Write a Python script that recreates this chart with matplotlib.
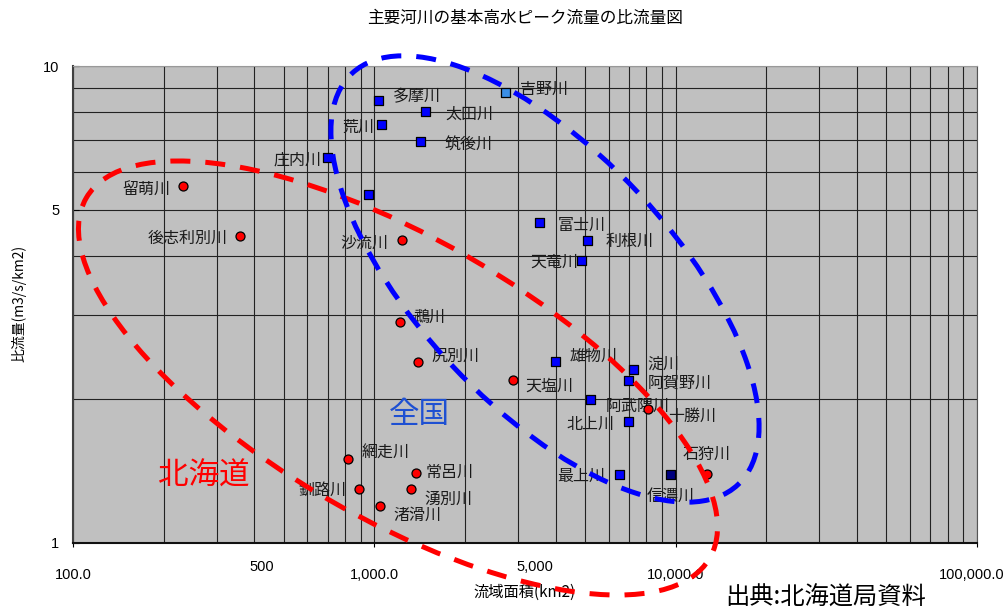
import matplotlib
matplotlib.use("Agg")
from matplotlib import pyplot as plt
from matplotlib.patches import Ellipse
from matplotlib.ticker import FixedLocator, NullFormatter
from matplotlib.transforms import ScaledTranslation

plt.rcParams['font.family'] = ['Noto Sans CJK JP', 'DejaVu Sans']

# 全国 (blue squares): 流域面積 km2, 比流量 m3/s/km2
zenkoku_names = ['多摩川', '太田川', '荒川', '筑後川', '庄内川', '', '吉野川', '富士川',
                 '利根川', '天竜川', '雄物川', '淀川', '阿賀野川', '阿武隈川', '北上川',
                 '最上川', '信濃川']
zenkoku_area = [1034, 1484, 1058, 1426, 698, 957, 2730, 3529,
                5082, 4853, 4006, 7222, 6984, 5225, 6984, 6486, 9632]
zenkoku_q = [8.45, 8.02, 7.55, 6.93, 6.43, 5.39, 8.81, 4.70,
             4.31, 3.91, 2.40, 2.31, 2.19, 2.00, 1.80, 1.395, 1.395]

# 北海道 (red circles)
hokkaido_names = ['留萌川', '後志利別川', '沙流川', '鵡川', '尻別川', '天塩川', '網走川',
                  '常呂川', '釧路川', '湧別川', '渚滑川', '十勝川', '石狩川']
hokkaido_area = [232, 358, 1239, 1214, 1393, 2878, 818, 1378, 890, 1321, 1042, 8110, 12680]
hokkaido_q = [5.60, 4.40, 4.31, 2.90, 2.40, 2.20, 1.50, 1.40, 1.30, 1.30, 1.196, 1.91, 1.395]

x_ticks = [100, 1000, 10000, 100000]
x_ticklabels = ['100.0', '1,000.0', '10,000.0', '100,000.0']
y_ticks = [1, 5, 10]

# label placement (offset in points, alignment)
zenkoku_lab = [(10, 3, 'left'), (14, -2, 'left'), (-5, -2, 'right'), (17, -2, 'left'),
               (-4, -2, 'right'), (0, 0, 'left'), (10, 2, 'left'), (13, -2, 'left'),
               (13, -1, 'left'), (-2, -1, 'right'), (10, 4, 'left'), (10, 4, 'left'),
               (14, -2, 'left'), (11, -5, 'left'), (-10, -2, 'right'), (-10, -2, 'right'),
               (0, -16, 'center')]
hokkaido_lab = [(-9, -2, 'right'), (-9, -2, 'right'), (-10, -2, 'right'), (10, 4, 'left'),
                (10, 4, 'left'), (9, -5, 'left'), (10, 4, 'left'), (7, 1, 'left'),
                (-9, -1, 'right'), (10, -8, 'left'), (10, -7, 'left'), (14, -5, 'left'),
                (0, 14, 'center')]

sq_colors = ['#0000FF'] * len(zenkoku_area)
sq_colors[6] = '#3A8EE6'
sq_colors[16] = '#000080'

fig = plt.figure(figsize=(10.07, 6.10), dpi=100)
ax = fig.add_axes([73 / 1007, 67 / 610, 904 / 1007, 477 / 610])
ax.set_xscale('log')
ax.set_yscale('log')
ax.set_xlim(100, 100000)
ax.set_ylim(1, 10)
ax.set_facecolor('#C0C0C0')

narrow = ['Liberation Sans Narrow', 'Liberation Sans', 'DejaVu Sans']
ax.xaxis.set_major_locator(FixedLocator(x_ticks))
ax.set_xticklabels(x_ticklabels)
ax.xaxis.set_minor_formatter(NullFormatter())
ax.yaxis.set_major_locator(FixedLocator(y_ticks))
ax.yaxis.set_minor_locator(FixedLocator([2, 3, 4, 6, 7, 8, 9]))
ax.set_yticklabels([str(v) for v in y_ticks])
ax.yaxis.set_minor_formatter(NullFormatter())
ax.grid(which='both', color='#222222', lw=0.8)
ax.set_axisbelow(True)
ax.tick_params(which='minor', length=0)
ax.tick_params(axis='x', which='major', length=3, direction='out', pad=15)
ax.tick_params(axis='y', which='major', length=4, direction='in', pad=10, labelsize=10.5)
for lab in ax.get_xticklabels():
    lab.set_family(narrow)
    lab.set_fontsize(10.5)
last = ax.get_xticklabels()[-1]
last.set_transform(last.get_transform() + ScaledTranslation(-0.05, 0, fig.dpi_scale_trans))
for lab in ax.get_yticklabels():
    lab.set_family(['Liberation Sans', 'DejaVu Sans'])
for extra, dx in [(500, -16), (5000, -36)]:
    ax.annotate(f'{extra:,}', xy=(extra, 1), xycoords='data', xytext=(dx, -17),
                textcoords='offset points', ha='center', va='center', fontsize=10.5,
                family=narrow, annotation_clip=False)

ax.spines['left'].set_color('#404040')
ax.spines['left'].set_linewidth(1.5)
ax.spines['bottom'].set_color('#111111')
ax.spines['bottom'].set_linewidth(1.5)
ax.spines['top'].set_color('#999999')
ax.spines['right'].set_color('#555555')

ax.scatter(zenkoku_area, zenkoku_q, marker='s', s=42, c=sq_colors, edgecolors='black',
           linewidths=0.9, zorder=4)
ax.scatter(hokkaido_area, hokkaido_q, marker='o', s=42, c='#FF0000', edgecolors='black',
           linewidths=0.9, zorder=4)

for names, xs, ys, labs in [(zenkoku_names, zenkoku_area, zenkoku_q, zenkoku_lab),
                            (hokkaido_names, hokkaido_area, hokkaido_q, hokkaido_lab)]:
    for n, x, y, (dx, dy, ha) in zip(names, xs, ys, labs):
        if n:
            ax.annotate(n, xy=(x, y), xytext=(dx, dy), textcoords='offset points',
                        ha=ha, va='center', fontsize=11.5, color='#1a1a1a', zorder=3)

ax.text(0.383, 0.27, '全国', transform=ax.transAxes, fontsize=22, color='#1E50D2',
        ha='center', va='center', zorder=3)
ax.text(0.145, 0.14, '北海道', transform=ax.transAxes, fontsize=22, color='#FF0000',
        ha='center', va='center', zorder=3)

# dashed groupings, placed in figure inches
fig.add_artist(Ellipse((3.98, 2.32), 7.2, 2.8, angle=-30, fill=False, ec='#FF0000',
                       lw=3.6, ls=(0, (4, 3)), transform=fig.dpi_scale_trans, zorder=5))
fig.add_artist(Ellipse((5.45, 3.31), 5.64, 2.54, angle=-46.8, fill=False, ec='#0000FF',
                       lw=3.6, ls=(0, (4, 3)), transform=fig.dpi_scale_trans, zorder=5))

fig.text(525 / 1007, 1 - 18 / 610, '主要河川の基本高水ピーク流量の比流量図', ha='center',
         va='center', fontsize=12)
fig.text(525 / 1007, 1 - 592 / 610, '流域面積(km2)', ha='center', va='center', fontsize=11)
fig.text(19 / 1007, 1 - 303 / 610, '比流量(m3/s/km2)', ha='center', va='center',
         rotation=90, fontsize=10)
fig.text(725 / 1007, 1 - 598 / 610, '出典:北海道局資料', ha='left', va='center',
         fontsize=17.5)

fig.savefig('out.png', dpi=100)
